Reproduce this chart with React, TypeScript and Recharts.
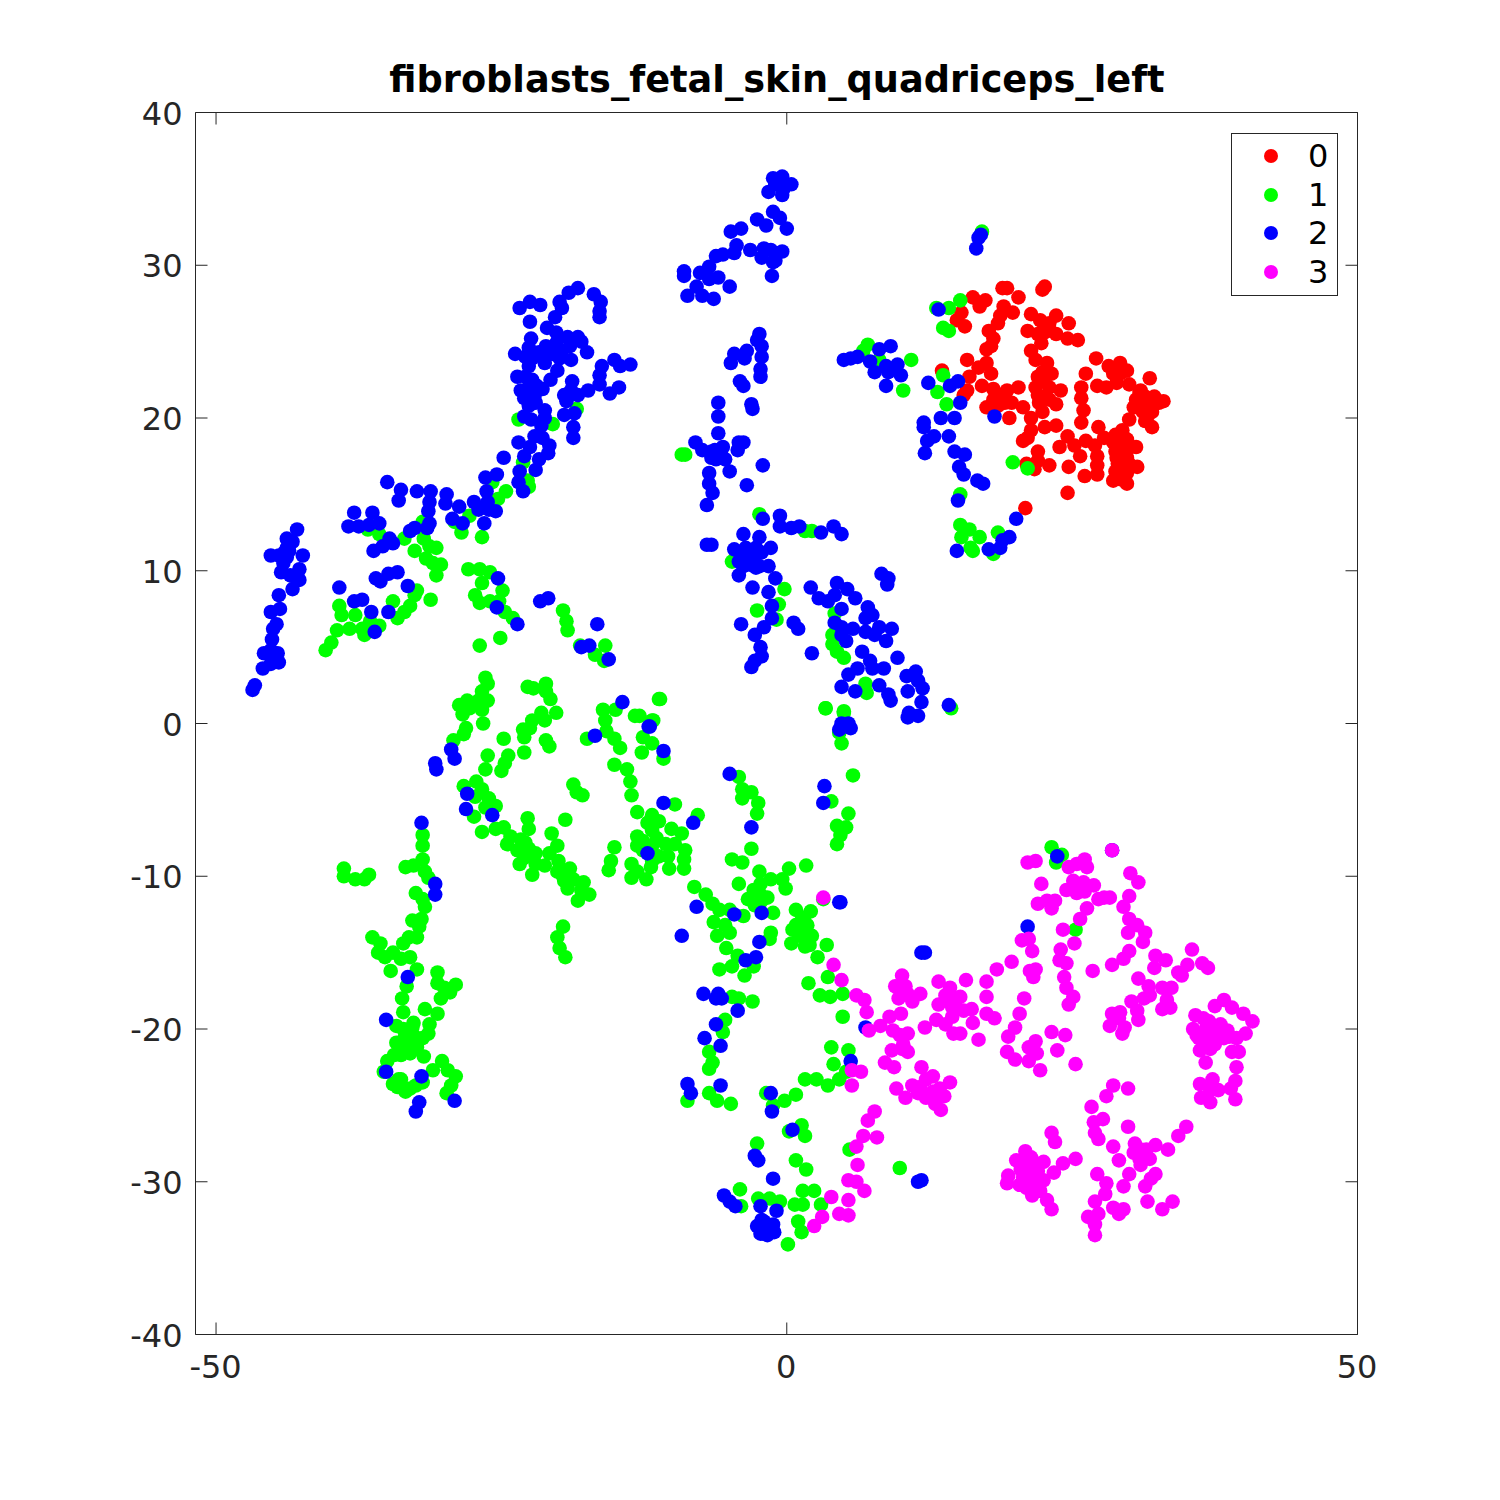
import { ScatterChart, Scatter, XAxis, YAxis } from 'recharts'

type Pt = [number, number]

const xTicks = [-50, 0, 50]
const yTicks = [-40, -30, -20, -10, 0, 10, 20, 30, 40]
const labels = ['0', '1', '2', '3']
const colors = ['#ff0000', '#00ff00', '#0000ff', '#ff00ff']

const class0: Pt[] = [
  [18.9,28.5],[19.3,28.5],[22.4,28.4],[22.6,28.6],[20.3,27.9],[16.3,27.9],[16.9,27.3],[17.4,27.7],[19,27.3],[19.8,26.9],
  [18.7,26.7],[15.3,26.9],[14.9,26.4],[15.6,26],[18.5,26.2],[21.4,26.8],[23.6,26.7],[24.7,26.2],[22.2,26.4],[23,26.2],
  [21.1,25.7],[22.6,25.6],[23.6,25.5],[24.6,25.2],[25.5,25.1],[22.3,24.9],[17.7,25.7],[18.1,25.2],[17.9,24.7],[17.5,24.5],
  [21.4,24.4],[21.8,23.8],[22.8,23.6],[15.8,23.8],[17.5,23.6],[16.8,23.3],[13.6,23.1],[17.9,22.9],[16,22.7],[17.1,22.1],
  [18.1,21.9],[15.8,21.8],[15.5,21.5],[19.3,21.8],[20.3,22],[22,22.7],[23.2,22.9],[21.8,22],[23,22],[24,21.8],
  [18.1,21.2],[19.1,21],[17.5,20.7],[18.5,20.8],[19.5,20],[20.7,20.7],[22.1,21],[23.6,20.9],[21.4,20],[22.4,20.4],
  [21.4,19.2],[22.6,19.4],[23.6,19.5],[24.6,18.8],[21.1,18.7],[20.7,18.5],[23.9,18.1],[25.2,18.2],[25.7,17.5],[22,17.8],
  [22,17.2],[23,16.9],[21.7,16.65],[21,17],[24.7,16.8],[24.6,15.1],[20.9,14.1],
  [27.1,23.9],[26.2,22.9],[28.2,23.4],[29.2,23.6],[29.8,23.1],[28.6,22.9],[27.2,22.1],[28,22],[25.8,22],[25.8,21.3],
  [30,22.2],[31.8,22.6],[31,21.8],[32.2,21.4],[33,21.1],[30.6,21.2],[31.4,20.9],[30.4,20.7],[32,20.4],[30,19.9],
  [31.4,19.8],[32,19.4],[26,20.5],[25.8,19.7],[27.3,19.4],[29.4,19.2],[28.8,18.9],[27.8,18.7],[26.2,18.5],[27,18.2],
  [29.2,18.3],[30.6,18.1],[29.8,18.6],[27.2,17.5],[28.8,17.8],[29.8,17.4],[27.2,16.9],[29,17],[30.7,16.8],[28.8,16.5],
  [26.1,16.2],[27.2,16.3],[29.8,16.4],[28.6,15.9],[29.8,15.7],[29.2,16],
  [31.4,21.4],[31.8,21],[31.2,20.4],[30.9,21.7],[32.2,20.9],[32.6,21],[31.6,20.1],[28.9,17.4],[29.4,17.4],[29.4,16.8],
  [29.4,18],[28.6,18.4],[29.9,18],[22,21.5],[22.6,21.3],[23,21.2],[22.5,22.4],[22.4,23],[19.7,21],[18.8,21.5],
  [23,25.8],[22.7,26],[22,25.5],[28.9,22.3],[29.2,22.9],[30,17],
]

const class1: Pt[] = [
  [17.1,32.2],[15.2,27.7],[14.2,27.2],[13.1,27.2],[13.7,25.9],[14.2,25.7],[7.1,24.8],[6.7,24.4],[8.1,23.8],[10.9,23.8],
  [10.2,21.8],[13.7,22.8],[13.2,21.7],[14,20.9],[19.8,17.1],[21.1,16.7],[15.2,15],[15.2,13],[16,12.7],[16.9,12.2],
  [15.3,12.2],[16.1,11.5],[16.3,11.3],[18.1,11.1],[18.5,12.5],[-9.2,17.6],[-8.9,17.6],[-2.4,13.7],[1.6,12.6],[2.2,12.6],
  [-4.8,10.6],[-0.2,8.8],[-0.7,7.8],[-2.6,7.4],[-0.9,6.8],[4.2,7.2],[4,5.8],[4,5.2],[4.4,4.7],[5,4.3],
  [6.9,2.6],[7,2],[3.4,1],[5,0.8],[14.4,1],[-11.2,1.6],[-12.9,0.5],[-11.8,0.2],
  [-26.4,3],[-26.2,2.6],[-26.7,2.1],[-26.2,1.5],[-27,1.5],[-28,1.5],[-28.7,1.2],[-27.8,1],[-26.7,0.9],[-28.4,0.6],
  [-26.6,0],[-28.1,-0.3],[-28.3,-0.7],[-29.2,-1.1],[-22.7,2.4],[-22.2,2.3],[-21.1,2.6],[-21.1,2.1],[-20.7,1.6],[-20.2,0.7],
  [-21.5,0.7],[-21.2,0.2],[-22.3,0.2],[-23.1,-0.4],[-22.5,-0.3],[-23,-0.9],[-24.8,-1],[-21.1,-1.1],[-20.8,-1.5],[-23,-1.9],
  [-26.2,-2.1],[-24.4,-2.1],[-24.7,-2.6],[-26.4,-3],[-25,-3.1],[-28.3,-4.1],[-27.2,-3.8],[-26.7,-4.3],[-26.1,-4.9],[-27.3,-4.8],
  [-26.4,-5.5],[-25.5,-5.4],[-27.4,-6.1],[-26.7,-7.1],[-25.5,-6.9],[-24.8,-6.8],[-22.7,-6.2],[-22.6,-6.9],[-24.2,-7.4],[-24.5,-7.9],
  [-23.3,-7.6],[-23.6,-8.3],[-22.6,-8.2],[-22,-8.5],[-23,-8.8],[-22,-9.2],[-22.3,-9.9],[-21.2,-9.3],[-20.6,-7.2],[-19.4,-6.3],
  [-20.1,-8],[-20.8,-8.5],[-20,-9],[-19,-9.5],[-20.1,-9.7],[-19.5,-10.3],[-18.7,-10.2],[-19.2,-10.8],[-17.8,-10.4],[-18,-10.9],
  [-17.3,-11.2],[-18.3,-11.6],[-18.7,-4],[-18.4,-4.5],[-17.9,-4.7],[-11.1,1.6],[-16.1,0.9],[-15,0.9],[-13.3,0.5],[-11.7,0.2],
  [-15.9,0.2],[-17.5,-1],[-15.8,-0.5],[-15.1,-1],[-14.6,-1.6],[-12.6,-0.9],[-11.8,-1.3],[-12.7,-1.9],[-10.8,-2.3],[-15.1,-2.7],
  [-14,-3],[-13.7,-3.8],[-13.6,-4.7],[-13.1,-5.8],[-9.8,-5.3],[-7.8,-6],[-11.8,-6],[-11.2,-6.4],[-12.2,-6.5],[-11.8,-7],
  [-13.1,-7.4],[-11.4,-7.5],[-13.1,-8],[-10.6,-7.9],[-10.1,-6.9],[-9.2,-7.2],[-8.9,-8.3],[-9.8,-7.9],[-9,-8.9],[-11.2,-8.7],
  [-10.4,-8.7],[-15.1,-8.1],[-15.4,-9],[-15.6,-9.6],[-13.6,-9.2],[-11.9,-9.4],[-13.1,-9.7],[-13.6,-10.1],[-12.3,-10.2],[-10.3,-9.5],
  [-9,-9.5],[-8.1,-10.7],[-7.1,-11.2],[-6.5,-11.8],[-5.9,-12.2],[-5,-12.2],[-3.8,-12.6],[-4.2,-3.5],[-3.9,-4.3],[-3.1,-4.5],
  [-3.9,-4.9],[-2.5,-5.2],[-2.6,-5.9],[-3.1,-8.2],[-4.8,-8.9],[-3.9,-9.1],[-2.4,-9.7],[1.7,-9.3],[0.2,-9.5],[-1.4,-10.2],
  [-0.4,-10.2],[-0.1,-10.8],[-4.2,-10.5],[-2.9,-10.9],[-2.3,-11.2],[-3.4,-11.5],[-1.7,-11.4],[-2.8,-11.9],[-1.2,-12.4],[-6.4,-13],
  [-5.4,-13.2],[-6.1,-13.9],[-5,-13.7],[-1.4,-13.7],[-1.5,-14.1],[-5.3,-14.7],[-4.3,-15.2],[-4.8,-15.9],[-5.9,-16.1],[-3.7,-16.5],
  [-2.9,-15.9],[0.8,-12.2],[2.1,-12.3],[3.2,-11.5],[0.8,-13.2],[1.8,-13.2],[1.1,-13.9],[2.2,-13.9],[0.4,-14.4],[1.6,-14.6],
  [3.5,-14.5],[2.7,-15.3],[3.6,-16.6],[1.9,-17],[2.9,-17.8],[3.8,-17.9],[4.9,-17.7],[4.9,-19.2],[3.4,1],[5,0.7],
  [4.6,-0.6],[4.8,-1.3],[5.8,-3.4],[3.9,-5.1],[5.4,-5.9],[4.4,-6.7],[5.2,-6.8],[4.4,-7.9],[4.7,-7.3],[-5.4,-19.4],
  [-5.6,-20.2],[-4.8,-17.9],[-4.2,-18],[-3,-18.2],[-6.8,-21.5],[-6.5,-22.2],[-6.8,-22.6],[-8.7,-24.7],[-6.8,-24.2],[-6.1,-24.7],
  [-4.9,-24.9],[-1.8,-24.2],[-0.2,-24.7],[-1.2,-25],[0.8,-24.3],[1.6,-23.3],[2.6,-23.3],[3.6,-23.7],[4.6,-23.3],[4.1,-22.3],
  [3.9,-21.2],[5.4,-21.4],[5.2,-22.8],[1.3,-26.3],[1.6,-27],[0.2,-26.7],[-2.6,-27.5],[0.8,-28.6],[1.7,-29.2],[5.5,-27.9],
  [-4.1,-30.5],[-4,-31.6],[-2.5,-31.1],[-1.5,-31.1],[-0.6,-31.3],[0.7,-31.5],[1.4,-30.6],[2.4,-30.6],[1.4,-31.5],[3,-31.5],
  [1,-32.6],[1.3,-33.3],[0.1,-34.1],[9.9,-29.1],[23.2,-8.1],[23.6,-9.1],[24.1,-8.6],[25.3,-13.5],
  [-38.8,-9.5],[-38.8,-10],[-37.8,-10.2],[-37,-10.2],[-36.6,-9.9],[-31.9,-7.3],[-31.9,-8],[-31.9,-8.9],[-33.4,-9.4],[-32.7,-9.3],
  [-31.7,-9.7],[-31.4,-10.1],[-32.5,-11.1],[-31.9,-11.5],[-31.7,-12],[-32,-12.8],[-32.8,-12.9],[-32.2,-13.3],[-32.4,-14],[-33.1,-14],
  [-33.6,-14.4],[-36.3,-14],[-35.6,-14.4],[-35.8,-15],[-34.5,-15],[-35.2,-15.3],[-33,-15.3],[-33.8,-15.4],[-34.7,-16.2],[-32.4,-16.1],
  [-33.3,-17.2],[-30.6,-16.3],[-30.6,-17],[-30,-17.3],[-29,-17.1],[-30.3,-18],[-29.5,-17.6],[-33.7,-18],[-33.6,-18.9],[-31.7,-18.7],
  [-30.6,-19],[-32.7,-19.6],[-31.3,-19.7],[-31.4,-20.3],[-34.2,-19.8],[-33.6,-20],[-33.1,-20.6],[-31.9,-20.6],[-34.2,-20.9],[-33.3,-21.2],
  [-32.4,-21.2],[-34.4,-21.7],[-33,-21.6],[-31.8,-21.8],[-33.8,-21.7],[-35,-22.1],[-35.3,-22.8],[-30.2,-22.1],[-31,-22.7],[-29.7,-22.7],
  [-29,-23.1],[-29.4,-23.7],[-29.8,-24.2],[-34.5,-23.6],[-33.8,-23.3],[-34.1,-23.8],[-33.4,-24.1],[-32.5,-23.7],[-31.9,-23.5],[-19.6,-13.3],
  [-20.1,-14],[-19.9,-14.7],[-19.4,-15.3],
  [-23.5,19.9],[-20.5,19.6],[-18.4,20.6],[-23.1,17.1],[-25.8,15.8],[-22.7,15.9],[-22.6,15.5],[-24.6,15.2],[-25.3,14.7],[-27.8,13.6],
  [-29.1,13.2],[-28.5,12.5],[-26.7,12.2],[-36.7,12.7],[-35.7,12.4],[-33.5,12.1],[-31.9,13.2],[-31.8,12.1],[-32.6,11.3],[-31.3,11.6],
  [-30.7,11.5],[-31.6,10.8],[-30.3,10.4],[-31,10.5],[-30.7,9.7],[-27.9,10.1],[-26.9,10.1],[-26,9.9],[-26.7,9.2],[-24.9,8.7],
  [-27.3,8.4],[-26.9,7.9],[-26,8],[-25.2,8],[-24.7,7.3],[-24,6.9],[-26.9,5.1],[-25.1,5.6],[-19.6,7.4],[-19.3,6.7],
  [-19.2,6.1],[-15.9,5.1],[-16.8,4.5],[-18.1,5.1],[-16,4.1],[-40.4,4.8],[-39.9,5.3],[-39.4,6.1],[-39.2,7.7],[-39,7.1],
  [-38.3,6.2],[-37.8,7.1],[-37.2,6.2],[-36.5,6.7],[-37,5.8],[-35.7,6.4],[-34.5,8],[-34.1,6.9],[-33.5,7.3],[-32.6,8.4],
  [-33,7.7],[-32.4,8.7],[-31.2,8.1],
  [-33.5,-20.6],[-32.9,-20.2],[-33,-21],[-32.6,-20.5],[-33.9,-21],[-32.8,-19.9],[1.2,-13],[1.5,-12.7],[1.2,-13.5],[1.7,-13.8],
  [2,-14.5],[0.5,-13.5],[-2.3,-10.5],[-2.3,-11.7],[-22.9,-7.8],[-23.4,-9.2],[-19.7,-9.6],[-19.6,-10],[-11.8,-8],[-12.6,-8.3],
  [-12.6,-7.7],[-11.8,-9],[-34,-23.3],[-33,-23.9],
]

const class2: Pt[] = [
  [-23.4,27.2],[-22.5,27.6],[-21.6,27.4],[-22.5,26.3],[-19.9,27.6],[-19.7,27.2],[-20.3,26.6],[-19.1,28.2],[-18.3,28.5],[-16.9,28.1],
  [-16.3,27.6],[-16.4,27],[-16.4,26.6],[-21,25.9],[-20.2,25.6],[-19.2,25.3],[-18.3,25.3],[-18,25],[-17.5,24.3],[-22.4,25.2],
  [-22.6,24.6],[-23.8,24.2],[-21.7,24.3],[-21.1,24.7],[-20.2,24.9],[-19,24.7],[-20.5,24.2],[-18.9,23.8],[-19.9,23.9],[-21.2,23.6],
  [-22.9,24],[-22.6,23.4],[-20.1,23.1],[-20.7,22.5],[-23.6,22.7],[-22.9,22.7],[-22.3,22.5],[-23.3,21.8],[-22.6,21.9],[-21.4,21.9],
  [-23,21.3],[-22.1,21.4],[-22.6,20.8],[-22,21],[-16.2,23.4],[-16.4,22.8],[-16.4,22.2],[-15.1,23.8],[-14.6,23.4],[-13.7,23.5],
  [-18.8,22.4],[-18.9,21.8],[-19.5,21.5],[-19.3,21.1],[-18.3,21.5],[-17.4,21.8],[-15.5,21.6],[-14.7,22],[-19.5,20.2],[-18.6,20.3],
  [-18.7,19.4],[-18.7,18.7],[-21.2,20.5],[-21.2,20],[-23,20.1],[-22.4,19.9],[-21.5,19.5],[-22.1,18.8],[-21.4,18.7],[-20.8,18.2],
  [-20.9,17.7],[-21.7,17.3],[-22,16.6],[-23.5,18.4],[-22.5,18.1],[-23,17.5],[-24.8,17.4],[-26.4,16.1],[-25.4,16.3],[-23.4,16.5],
  [-23.5,15.8],[-23.1,15.2],[-35,15.8],[-33.8,15.3],[-34,14.6],[-32.4,15.2],[-31.2,15.2],[-31.3,14.5],[-31.4,13.9],[-31.3,13.1],
  [-31.5,12.8],[-32.6,12.8],[-33,12.6],[-29.8,15],[-29.9,14.4],[-28.7,14.2],[-29.3,13.4],[-28.4,13.1],[-26.3,15.2],[-27.4,14.5],
  [-26.2,14.5],[-27,14],[-26.1,14],[-25.5,13.9],[-26.5,13.1],[-37.9,13.8],[-36.3,13.8],[-38.4,12.9],[-37.5,12.9],[-36.6,13],
  [-35.7,13.1],[-34.5,11.8],[-34.8,12.1],[-35.4,11.6],[-36.2,11.3],[-42.9,12.7],[-43.8,12.1],[-43.3,11.9],[-43.6,11.3],[-45.2,11],
  [-44.5,11],[-43.8,10.9],[-42.4,11],[-44.1,10.5],[-44.3,9.9],[-42.7,10.1],[-43.5,9.7],[-42.7,9.4],[-43.3,8.8],[-44.5,8.4],
  [-39.2,8.9],[-36,9.5],[-35.6,9.3],[-34.9,9.8],[-34.1,9.9],[-33.2,9],[-25.3,9.5],
  [-46.8,2.2],[-46.6,2.5],[-45.9,3.6],[-45.2,3.9],[-44.5,4],[-45.8,4.6],[-45.2,4.8],[-44.6,4.6],[-45.1,5.5],[-45,6.2],
  [-44.7,6.5],[-45.2,7.3],[-44.4,7.5],[-37.9,8],[-37.2,8.1],[-36.4,7.3],[-36.1,6],[-34.9,7.3],[-25.4,7.6],[-23.6,6.5],
  [-21.6,8],[-20.9,8.2],[-16.6,6.5],[-18,5],[-17.3,5.1],[-15.6,4.2],
  [-1.2,35.7],[-0.4,35.8],[0.4,35.3],[-1,35.3],[-0.3,35],[-1.6,34.8],[-0.4,34.6],[-2.6,33],[-1.2,33.5],[-0.6,33.1],
  [0,32.4],[-1.8,32.6],[-4,32.4],[-4.9,32.2],[-0.4,30.9],[-1.4,31],[-2,31.1],[-2.2,30.5],[-1.2,30.2],[-3.2,31],
  [-4.4,31.3],[-4.6,30.8],[-5.6,30.7],[-6.2,30.6],[-1.3,29.3],[-6.8,29.9],[-7.6,29.5],[-9,29.6],[-9,29.3],[-6.8,29.1],
  [-6,29.2],[-5,28.6],[-7.9,28.6],[-8.7,28],[-7.4,28],[-6.4,27.8],[-2.4,25.5],[-2.6,25.1],[-2.2,24.7],[-2.2,24],
  [-2.3,23.2],[-2.3,22.7],[-3.5,24.4],[-4.6,24.2],[-3.7,23.9],[-4.9,23.6],[-4.1,22.4],[-3.8,22.1],[-3.1,20.9],[-3,20.6],
  [-6,21],[-6,20.1],[-6,19],[-8,18.4],[-7.4,17.9],[-6.6,17.8],[-5.6,18.1],[-6.2,17.3],[-5.4,17.3],[-4.2,18.4],
  [-3.8,18.4],[-4.3,17.9],[-5,16.5],[-2.1,16.9],[-6.8,16.4],[-6.8,15.7],[-6.5,15.1],[-7,14.3],[-3.5,15.6],[-2.1,13.4],
  [-0.6,13.6],[-0.6,12.9],[0.4,12.8],[1.1,12.9],[3,12.5],[4.1,12.9],[4.8,12.4],[-7,11.7],[-6.6,11.7],[-3.8,12.4],
  [-2.4,12.2],[-4.6,11.4],[-3.6,11.5],[-1.4,11.5],[-2.2,11.2],[-3,10.8],[-4.2,10.6],[-2.4,10.3],[-1.6,10.3],[-3.8,10.3],
  [-4.2,9.7],[-1,9.5],[-3,8.9],[-1.6,8.6],[-1.3,7.7],[-1.3,6.9],[-4,6.5],[-2,6.3],[-2.8,5.8],[0.6,6.6],
  [1,6.2],[-2.3,5],[-2.2,4.4],[-2.8,4.1],[-3.1,3.7],[2.2,4.6],[2.1,8.9],[2.8,8.2],[3.6,8],[4.4,9.2],
  [4.2,8.4],[5.3,8.8],[6,8.2],[4.8,7.5],[7.1,7.6],[7.5,7.1],[6.9,6.9],[4.2,6.6],[4.8,6.3],[5.8,6.2],
  [6.9,6],[8.1,6.3],[9.2,6.2],[8.7,5.4],[7.7,5.8],[5.2,5.4],[4.8,5.8],[8.3,9.8],[8.9,9.5],[8.8,9.1],
  [6.6,4.7],[7.3,4.1],[6.2,3.6],[7.5,3.6],[8.5,3.6],[5.4,3.2],[9.7,4.3],[10.5,3.1],[11.3,3.4],[11.5,2.8],
  [11.9,2.3],[10.6,2.1],[4.8,2.4],[6,2.1],[8.1,2.5],[8.9,1.9],[9.1,1.5],[11.8,1.4],[10.7,0.7],[11.5,0.5],
  [10.6,0.4],[14.2,1.2],[4.8,0],[4.6,-0.4],[5.6,-0.3],[5,23.8],[5.6,23.9],[6.2,24],[8.1,24.5],[9.1,24.7],
  [7.3,23.7],[7.7,23],[8.7,23.4],[9.7,23.5],[8.9,23],[10,22.8],[8.7,22.1],[12.4,22.3],[14.3,22.1],[15,22.4],
  [15.2,21],[13.5,20],[14.7,20],[12,19.7],[12,19.4],[12.9,18.8],[14.2,18.8],[12.3,18.5],[12.1,17.7],[14.7,17.8],
  [15.6,17.6],[15.1,16.8],[15.5,16.3],[16.7,15.9],[17.2,15.7],[15,14.6],[13.3,27.1],[18.2,20.1],[16.8,31.8],[16.6,31.1],
  [17,32],[20.1,13.4],[19.5,12.2],[18.9,12],[18.7,11.5],[17.7,11.4],[14.9,11.3],
  [-14.4,1.4],[-12,-0.2],[-16.8,-0.8],[-10.8,-1.8],[-29.4,-1.7],[-29.1,-2.3],[-30.8,-2.6],[-30.7,-3],[-28,-4.6],[-28.1,-5.6],
  [-25.8,-6],[-32,-6.5],[-30.8,-10.5],[-30.8,-11.2],[-12.2,-8.5],[-10.8,-5.2],[-8.2,-6.5],[-5,-3.3],[-3.1,-6.8],[3.3,-4.1],
  [3.2,-5.2],[4.7,-0.3],[5.4,0],[-7.9,-12],[-4.6,-12.5],[-2.2,-12.4],[-9.2,-13.9],[-2.4,-14.3],[-2.7,-15.3],[-3.6,-15.5],
  [-7.3,-17.7],[-6.2,-18],[-6,-17.7],[-5.7,-18],[-4.3,-18.8],[-6.2,-19.7],[-7.2,-20.6],[-5.8,-21.1],[-8.7,-23.6],[-8.4,-24.2],
  [-5.8,-23.7],[-1.4,-24.2],[-1.3,-25.4],[0.5,-26.6],[-2.8,-28.3],[-2.5,-28.6],[-1.2,-29.8],[-5.5,-30.9],[-5,-31.3],[-4.5,-31.6],
  [-2.3,-31.6],[-0.9,-31.9],[-2.6,-32.9],[-2,-32.6],[-1.2,-32.8],[-2.3,-33.4],[-1.7,-33.5],[-1.1,-33.3],[-1.9,-33],[4.7,-11.7],
  [4.6,-11.7],[-32,-23.1],[-35.1,-22.8],[-35.1,-19.4],[-33.2,-16.6],[-29.1,-24.7],[-32.2,-24.8],[-32.5,-25.4],[5.6,-22.1],[6.9,-19.9],
  [11.8,-15],[12.1,-15],[21.1,-13.3],[23.7,-8.7],[28.5,-8.3],[11.5,-30],[11.8,-29.9],[-12.1,-0.2],
  [-22.5,22.2],[-22.9,21.6],[-22.2,21.8],[-21.9,22.1],[-20.2,24.4],[-19.7,24.4],[-20.8,24.3],[-22.3,23.9],[-43.8,11.5],[-44,11.2],
  [-1.9,-33.4],[-2.2,-32.5],[-6.3,17.9],[-6.6,17.4],[-5.8,17.7],[-3.4,11.2],[-3.2,10.4],[-2.7,11.5],[-4,11],[-1,30.8],
  [-1,30.3],[-2.7,10.2],
]

const class3: Pt[] = [
  [21.1,-9.1],[21.8,-9],[28.5,-8.3],[24.7,-9.4],[25.4,-9.2],[26.1,-8.9],[26.3,-9.4],[22.3,-10.5],[30.1,-9.8],[30.8,-10.4],
  [24.5,-10.9],[25.1,-10.3],[26,-10.4],[26.9,-10.6],[25.4,-11.1],[26.1,-11],[27.3,-11.5],[28.3,-11.4],[30,-11.3],[29.5,-12],
  [22,-11.8],[22.8,-11.6],[23.5,-11.6],[23.2,-12.1],[26.3,-12.1],[25.7,-12.8],[24.2,-13.5],[30,-12.8],[30.7,-13.2],[31.4,-13.7],
  [29.9,-13.7],[31.2,-14.3],[25.2,-14.4],[20.6,-14.2],[21.2,-14.1],[21.5,-14.9],[24,-14.8],[23.9,-15.5],[24.5,-15.7],[30,-14.9],
  [29.5,-15.4],[28.5,-15.8],[26.8,-16.2],[32.3,-15.2],[33.2,-15.5],[32.2,-16],[35.5,-14.8],[36.4,-15.7],[36.9,-16],[35.1,-15.8],
  [34.3,-16.3],[34.6,-16.5],[19.7,-15.6],[18.4,-16.1],[17.5,-16.9],[21.8,-16.1],[21.3,-16.2],[21.6,-16.6],[24.3,-16.6],[24.5,-17.3],
  [25.1,-17.9],[24.7,-18.4],[30.8,-16.7],[31.7,-17.2],[31.8,-17.8],[31.3,-18],[30.2,-18.2],[32.9,-17.3],[33.7,-17.3],[33.3,-18.1],
  [32.9,-18.7],[33.6,-18.6],[28.5,-19],[29.2,-18.9],[30.7,-18.8],[30.8,-19.4],[28.3,-19.8],[29.6,-19.9],[29.4,-20.3],[29.1,-19.3],
  [37.5,-18.5],[38.3,-18.1],[39,-18.6],[40,-19],[40.8,-19.5],[40.2,-20.3],[35.8,-19.1],[36.5,-19.3],[35.6,-20],[36.8,-19.8],
  [38,-19.7],[38.6,-20.1],[36.1,-20.6],[37.4,-20.5],[39.4,-20.6],[38.3,-20.6],[36.2,-21.4],[37.1,-21.3],[36.7,-22.2],[39,-21.5],
  [39.6,-21.5],[39.4,-22.5],[39.3,-23.4],[38.9,-23.9],[36.2,-23.6],[37.3,-23.3],[37.1,-24],[37.8,-24],[36.3,-24.5],[37.1,-24.8],
  [39.3,-24.6],[4.1,-15.8],[4.8,-16.8],[6.1,-17.8],[6.8,-18.1],[7,-18.9],[7.2,-20.1],[8.2,-19.8],[9,-19.2],[10,-19],
  [10.1,-16.5],[9.5,-17.2],[10.4,-17.2],[10,-17.7],[10.6,-17.7],[11.7,-17.7],[11,-18.2],[9.8,-18],[9.3,-20.1],[10.6,-20.3],
  [9.9,-20.4],[10.2,-21],[9.2,-21.4],[10.6,-21.5],[10.1,-21.3],[8.6,-22.2],[9.4,-22.5],[11.8,-22.5],[12.8,-23.1],[12.2,-23.3],
  [14.3,-23.5],[13.4,-23.9],[11,-23.7],[9.6,-23.9],[10.4,-24.5],[11.5,-24.2],[12.2,-24.5],[13,-24.9],[13.5,-25.3],[5.7,-22.7],
  [6.5,-22.8],[5.7,-23.7],[13.3,-16.9],[15.7,-16.8],[14.3,-17.3],[15.2,-17.9],[13.3,-18.4],[14.5,-18.6],[13.1,-19.4],[13.9,-19.7],
  [14.6,-20.3],[15.2,-20.3],[12.1,-19.9],[16.2,-18.7],[15.5,-18.8],[16.3,-19.6],[17.5,-19],[18.2,-19.3],[16.8,-20.7],[17.5,-17.9],
  [20.8,-18],[20.4,-19],[20,-19.9],[19.4,-20.5],[19.3,-21.5],[20,-22],[21.2,-21.2],[21.8,-20.8],[23.2,-20.2],[24.4,-20.4],
  [23.7,-21.4],[21.2,-22.1],[22.2,-22.7],[21.9,-21.6],[25.3,-22.3],[7.7,-25.4],[7.1,-26],[6.7,-27],[7.9,-27.1],[6.1,-27.7],
  [6.2,-28.9],[5.4,-29.9],[6.1,-30],[6.8,-30.6],[3.9,-31],[5.4,-31.2],[4.6,-32.1],[5.4,-32.2],[3.1,-32.3],[2.4,-32.9],
  [28.6,-23.7],[28,-24.4],[29.9,-23.9],[26.7,-25.1],[27.7,-25.9],[26.9,-26.1],[27,-26.8],[27.3,-27.2],[29.9,-26.4],[35,-26.4],
  [34.3,-27],[33.4,-27.9],[32.3,-27.6],[30.5,-27.5],[30.4,-28.1],[31.3,-28.3],[31.8,-28.5],[31,-28.9],[28.6,-27.7],[29.1,-28.6],
  [30,-29.5],[29.5,-30.3],[32.3,-29.5],[31.4,-30.3],[31.9,-29.8],[27.2,-29.5],[28,-30.1],[27.9,-30.8],[27,-31.3],[26.4,-32.3],
  [27.3,-32.1],[27,-32.8],[27,-33.5],[28.6,-31.7],[29.5,-31.8],[29.1,-32.1],[31.6,-31.3],[32.9,-31.8],[33.8,-31.3],[23.2,-26.8],
  [23.5,-27.4],[25.3,-28.5],[24.2,-28.8],[23.4,-29.4],[22.5,-28.7],[20.9,-28],[20.1,-28.6],[19.4,-29.6],[19.3,-30.1],[21,-29],
  [21.8,-28.8],[21.8,-29.7],[20.7,-29.7],[22.5,-29.9],[21,-30.4],[21.5,-30.9],[22.2,-30.6],[22.8,-31.2],[23.2,-31.8],[22,-29.3],
  [3.2,-11.4],
  [36.5,-20.3],[37,-20],[37.7,-20.2],[38.8,-20.5],[36.6,-21],[37.5,-21],[38,-20.3],[35.9,-20.4],[37,-19.5],[20.5,-29.2],
  [21.4,-29.3],[20.4,-30.2],[21.4,-30],[22,-30.2],[20.8,-28.5],[21.4,-28.4],[21.8,-30.4],[13.8,-24.4],[11.7,-23.8],[12.8,-24.1],
  [14,-18.1],[14.8,-18.1],[13.9,-17.8],[14.5,-19.2],[31,-27.9],[30.9,-28.5],[31.5,-27.9],[26,-10.9],[25.7,-10.7],[27.8,-11.4],
]

const series = [class0, class1, class2, class3]

const fontFamily = '"DejaVu Sans", sans-serif'
const tickColor = '#262626'
const TICK_LEN = 12

// recharts ticks only point outwards, so the inward marks are drawn here
function BottomTick({ x, y, payload }: any) {
  return (
    <g>
      <line x1={x} y1={y} x2={x} y2={y - TICK_LEN} stroke={tickColor} />
      <text x={x - 0.5} y={y + 43} textAnchor="middle" fontSize={32} fontFamily={fontFamily} fill={tickColor}>{payload.value}</text>
    </g>
  )
}

function LeftTick({ x, y, payload }: any) {
  return (
    <g>
      <line x1={x} y1={y} x2={x + TICK_LEN} y2={y} stroke={tickColor} />
      <text x={x - 13} y={y + 12} textAnchor="end" fontSize={32} fontFamily={fontFamily} fill={tickColor}>{payload.value}</text>
    </g>
  )
}

const TopTick = ({ x, y }: any) => <line x1={x} y1={y} x2={x} y2={y + TICK_LEN} stroke={tickColor} />
const RightTick = ({ x, y }: any) => <line x1={x} y1={y} x2={x - TICK_LEN} y2={y} stroke={tickColor} />

function LegendBox() {
  return (
    <div style={{ position: 'absolute', left: 1231, top: 133, width: 107, height: 163, boxSizing: 'border-box', border: `1px solid ${tickColor}`, background: '#fff', fontFamily, fontSize: 32, color: '#000' }}>
      {labels.map((l, i) => (
        <div key={l} style={{ position: 'absolute', top: 3 + i * 38.7, left: 0, width: 105, height: 38, lineHeight: '38px' }}>
          <span style={{ position: 'absolute', left: 32, top: 12, width: 14, height: 14, borderRadius: 7, background: colors[i] }} />
          <span style={{ position: 'absolute', left: 76 }}>{l}</span>
        </div>
      ))}
    </div>
  )
}

export default function App() {
  return (
    <div style={{ position: 'absolute', left: 0, top: 0, width: 1500, height: 1500, background: '#fff' }}>
      <div style={{ position: 'absolute', left: 0, right: 0, top: 58, marginLeft: 54, textAlign: 'center', fontFamily, fontWeight: 'bold', fontSize: 36.7, color: '#000', zIndex: 1 }}>
        fibroblasts_fetal_skin_quadriceps_left
      </div>
      <ScatterChart width={1500} height={1500} margin={{ top: 111.5, right: 141.5, bottom: 105.5, left: 135.5 }}>
        <XAxis type="number" dataKey="x" domain={[-51.8, 50]} ticks={xTicks} height={60} allowDataOverflow
          stroke={tickColor} tickLine={false} tickSize={0} tickMargin={0} tick={BottomTick} interval={0} />
        <XAxis type="number" xAxisId="top" orientation="top" dataKey="x" domain={[-51.8, 50]} ticks={xTicks} height={1} allowDataOverflow
          stroke={tickColor} tickLine={false} tickSize={0} tickMargin={0} tick={TopTick} interval={0} />
        <YAxis type="number" dataKey="y" domain={[-40, 40]} ticks={yTicks} width={60} allowDataOverflow
          stroke={tickColor} tickLine={false} tickSize={0} tickMargin={0} tick={LeftTick} interval={0} />
        <YAxis type="number" yAxisId="right" orientation="right" dataKey="y" domain={[-40, 40]} ticks={yTicks} width={1} allowDataOverflow
          stroke={tickColor} tickLine={false} tickSize={0} tickMargin={0} tick={RightTick} interval={0} />
        {/* empty series so the top and right axes get drawn */}
        <Scatter xAxisId="top" yAxisId="right" data={[]} isAnimationActive={false} />
        {series.map((pts, i) => (
          <Scatter key={labels[i]} name={labels[i]} data={pts.map(([x, y]) => ({ x, y }))} isAnimationActive={false}
            shape={(p: any) => <circle cx={p.cx} cy={p.cy} r={7.3} fill={colors[i]} />} />
        ))}
      </ScatterChart>
      <LegendBox />
    </div>
  )
}
